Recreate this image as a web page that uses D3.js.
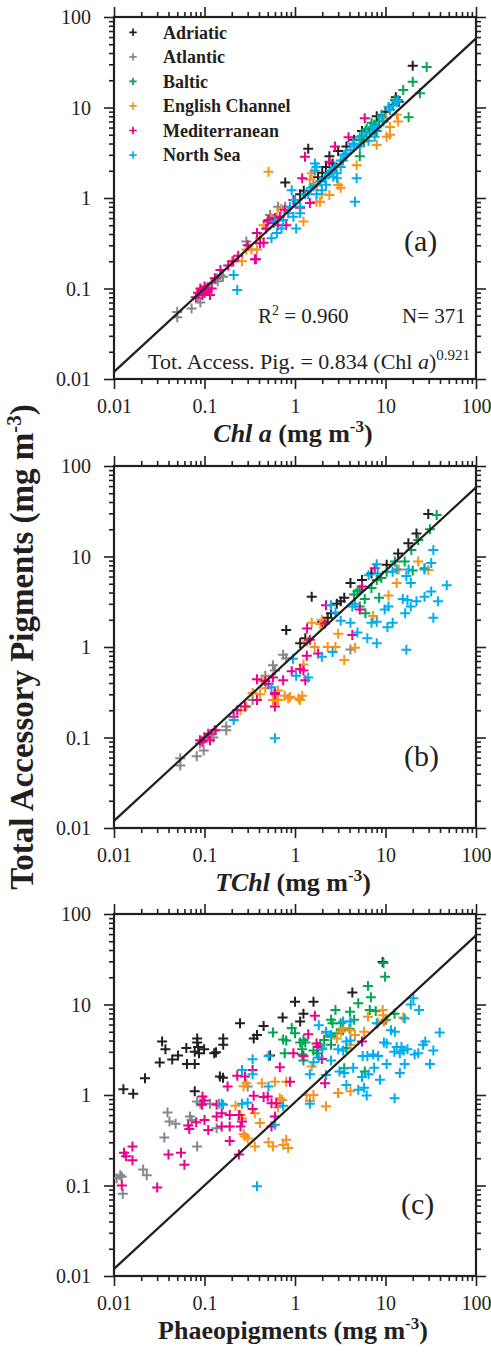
<!DOCTYPE html>
<html><head><meta charset="utf-8">
<script src="https://cdn.jsdelivr.net/npm/d3@7"></script>
<style>
body{margin:0;background:#fff}
svg{display:block}
text{font-family:"Liberation Serif","Times New Roman",serif;fill:#231f20}
</style>
</head><body>
<svg id="chart" width="491" height="1355"></svg>
<script>
// ---------- categories / styling keys ----------
const seriesNames = ["Adriatic","Atlantic","Baltic","English Channel","Mediterranean","North Sea"];
const seriesColors = ["#231f20","#85878a","#00a651","#f7941d","#ec008c","#00aeef"];
const tickValues = [0.01,0.1,1,10,100];
const tickLabels = ["0.01","0.1","1","10","100"];
const fitCoef = 0.834, fitExp = 0.921;
const panelLetters = ["(a)","(b)","(c)"];
const statsText = ["R","2"," = 0.960","N= 371"];

// ---------- panel (a): x = Chl a, y = total accessory pigments ----------
const adriatic_a = [[20,29],[13,13],[12,10.7],[14,11.6],[10,9],[1.4,3.5],[0.78,1.48],[1.14,1.1],[1.25,1.2],[2.4,2.9],[3.0,3.3],[3.7,3.7],[2.2,2.2],[2.6,2.4],[4.5,4.4],[5.5,5.5],[1.8,1.7],[2.0,1.9],[8,8]];
const atlantic_a = [[0.05,0.055],[0.05,0.048],[0.072,0.06],[0.085,0.078],[0.09,0.07],[0.1,0.09],[0.12,0.115],[0.136,0.13],[0.16,0.135],[0.14,0.12],[0.15,0.14],[0.29,0.33],[0.53,0.65],[0.65,0.8],[0.78,0.8]];
const baltic_a = [[28.5,28],[20,19.3],[15.7,15.6],[24,14.4],[18,7.8],[12.7,12.1],[9.1,8.3],[7.3,6.1],[6.7,5.2],[5.2,4.4],[5.2,2.9],[6,5.5],[7.5,6.5],[5.5,4.8],[8.5,7.0],[6.2,5.8],[7,6.8],[5.8,4.2],[8,5.5]];
const channel_a = [[0.51,1.95],[1.53,1.88],[1.46,1.6],[2.4,1.08],[3.2,1.3],[4.8,2.3],[8,3.85],[11.2,6.1],[13.3,8.3],[13.8,7.0],[10.3,4.75],[1.98,1.1],[1.24,0.55],[0.33,0.27],[0.41,0.36],[0.63,0.62],[1.89,0.91],[1.73,1.39],[3.0,1.39],[0.29,0.27],[0.26,0.2],[1.73,0.91],[0.38,0.27],[11.2,5.0],[10.2,7.6],[1.6,1.4],[0.45,0.5],[0.55,0.6],[0.7,0.75],[0.2,0.2]];
const med_a = [[0.08,0.08],[0.09,0.1],[0.1,0.09],[0.11,0.1],[0.115,0.085],[0.095,0.085],[0.1,0.105],[0.183,0.18],[0.208,0.2],[0.236,0.23],[0.36,0.21],[0.41,0.316],[0.38,0.41],[0.48,0.46],[0.58,0.53],[0.68,0.62],[0.77,0.74],[0.8,0.5],[1.14,0.78],[1.46,0.88],[1.29,2.86],[1.2,1.65],[2.77,3.7],[3.9,4.7],[5.9,7.6],[2.4,2.52],[0.37,0.21],[0.45,0.32],[0.51,0.57],[0.96,0.95],[0.3,0.3],[0.13,0.13],[0.15,0.16],[0.085,0.09],[0.105,0.1],[0.12,0.1],[0.092,0.095],[0.5,0.55],[0.6,0.6],[0.65,0.5]];
const ns_a = [[4.6,0.91],[4.8,1.65],[13.3,11.6],[11.2,9.4],[9.5,7],[7.6,5.6],[6.2,5.2],[5.2,3.7],[4.1,3.4],[3.4,2.6],[2.9,1.88],[2.65,1.72],[3.2,2.2],[1.73,2.2],[1.65,2.0],[1.98,1.22],[2.2,1.4],[1.73,1.1],[0.92,1.22],[1.0,0.95],[1.14,0.8],[0.88,0.8],[0.84,0.68],[0.71,0.46],[0.55,0.36],[1.03,0.46],[1.66,2.4],[0.23,0.096],[0.21,0.141],[13.8,12.1],[12.2,10.5],[2.5,2.0],[3.5,3.0],[4.5,3.9],[6.5,4.3],[8,6],[1.3,1.1],[1.5,1.3],[0.6,0.55],[7.6,4.75],[4.4,4.0],[3.7,3.1],[3.2,2.6],[2.77,2.2],[2.4,1.88],[2.15,1.65],[1.9,1.52],[2.9,1.65],[1.6,1.34],[1.4,1.1],[1.14,0.68],[0.96,0.62],[0.74,0.57],[0.63,0.41],[10.8,10.2],[9.1,7.9],[7.3,6.1],[5.2,4.75]];

// ---------- panel (b): x = TChl ----------
const adriatic_b = [[29.7,29.5],[17.9,14],[13.8,10.8],[10.3,8.1],[4.1,5.1],[3.2,3.2],[2.5,2.36],[1.53,3.6],[0.8,1.54],[1.14,1.1],[3.5,3.5],[2.9,3.0],[2.3,2.1],[5.5,5.5],[7,6.5],[1.3,1.25],[2.0,1.9],[22,18]];
const atlantic_b = [[0.054,0.059],[0.054,0.049],[0.082,0.062],[0.098,0.072],[0.089,0.086],[0.125,0.1],[0.135,0.12],[0.174,0.132],[0.174,0.12],[0.34,0.26],[0.57,0.63],[0.74,0.82],[0.47,0.48],[4.1,0.94],[0.8,0.75],[0.6,0.55],[0.12,0.11]];
const baltic_b = [[36.8,28.7],[31,20],[23,15.2],[19.3,11.8],[12.7,8.8],[16.3,8.8],[10.3,6.8],[8.0,5.5],[9.0,5.8],[5.2,4.3],[4.9,4.1],[5.9,3.4],[8.5,3.5],[5.2,2.8],[6.0,2.36],[20,7],[27,7.4],[7,4.5],[4.5,3.8]];
const channel_b = [[23,8.8],[29.7,7.1],[13.3,5.1],[10.8,3.7],[7.3,2.2],[3.5,0.72],[2.8,1.0],[3.0,1.4],[1.98,2.0],[1.9,1.8],[1.53,1.85],[1.14,0.26],[0.88,0.28],[0.65,0.33],[0.63,0.26],[0.46,0.43],[0.43,0.42],[0.34,0.31],[1.24,0.64],[1.65,1.0],[2.3,1.0],[1.36,1.15],[4.6,0.98],[0.25,0.2],[0.29,0.22],[0.41,0.3],[0.47,0.35],[0.77,0.29],[0.84,0.27],[1.1,0.27],[1.2,0.29],[0.65,0.26],[0.57,0.26],[14,7.2]];
const med_b = [[7.6,7.4],[5.5,4.65],[2.2,2.9],[2.15,1.82],[1.36,1.6],[1.46,1.2],[1.24,0.55],[1.3,0.43],[0.6,0.22],[0.6,0.31],[0.74,0.43],[0.47,0.42],[0.38,0.44],[0.92,0.54],[4.3,1.36],[5.2,2.6],[0.089,0.093],[0.1,0.1],[0.115,0.093],[0.095,0.09],[0.21,0.17],[0.23,0.2],[0.28,0.22],[0.38,0.26],[0.51,0.39],[0.57,0.46],[0.6,0.3],[1.14,0.57],[1.35,0.8],[1.8,0.85],[0.11,0.11],[0.13,0.12]];
const ns_b = [[47.5,4.8],[33.8,11.8],[32,8.5],[27,7.2],[32,4.1],[38,3.2],[27,3.6],[22,3.2],[19,2.8],[17.5,3.3],[16.5,2.36],[15.5,3.4],[33.8,2.1],[17,0.93],[19,5.1],[10.8,2.8],[9.8,2.6],[12,1.85],[10.5,1.65],[8,1.9],[7,1.85],[8,1.1],[6.3,1.25],[4.9,1.45],[4.1,1.85],[4.3,2.8],[4.6,3.0],[3.2,1.95],[2.8,2.4],[2.5,2.9],[1.98,0.78],[2.6,0.88],[1.4,0.46],[1.03,0.48],[0.95,0.74],[0.6,0.098],[6.5,6.2],[8.2,6.5],[12,6.8],[17,6.1],[18,7.2],[13.3,7.2],[8.0,8.2],[0.55,0.36],[0.21,0.156]];

// ---------- panel (c): x = phaeopigments ----------
const adriatic_c = [[0.0127,1.16],[0.0163,1.03],[0.022,1.53],[0.032,2.28],[0.034,3.9],[0.037,3.2],[0.044,2.47],[0.051,2.74],[0.063,3.3],[0.064,2.2],[0.078,2.2],[0.083,4.2],[0.083,3.8],[0.085,3.4],[0.087,2.9],[0.078,3.0],[0.099,3.2],[0.134,2.96],[0.128,2.9],[0.161,4.2],[0.161,3.6],[0.148,1.6],[0.16,1.55],[0.078,1.1],[0.247,6.2],[0.35,4.2],[0.38,4.6],[0.45,5.8],[0.73,7.2],[1.0,10.7],[1.6,10.7],[1.24,7.9],[1.14,6.5],[4.3,13.6],[0.53,2.74],[9.3,29.5]];
const atlantic_c = [[0.083,0.85],[0.09,0.8],[0.115,0.8],[0.136,0.43],[0.069,0.58],[0.072,0.53],[0.041,0.51],[0.048,0.48],[0.039,0.64],[0.036,0.34],[0.083,0.27],[0.3,1.24],[3.0,1.05],[0.021,0.15],[0.023,0.13],[0.0117,0.13],[0.0107,0.12],[0.0125,0.081],[0.0122,0.125],[0.145,0.8]];
const baltic_c = [[9.5,28.7],[9.9,20.3],[6.4,16],[6.9,12],[5.0,10.3],[4.05,8.3],[4.5,6.8],[6.7,8.7],[7.8,8.5],[12.6,7.9],[10.1,6.8],[2.8,8.7],[2.5,6.8],[2.6,6.2],[3.2,6.2],[3.4,5.2],[4.0,5.4],[2.9,4.8],[2.5,4.4],[2.1,4.05],[2.5,3.6],[3.7,3.3],[1.24,4.05],[1.3,3.8],[1.14,3.8],[0.92,5.5],[1.0,4.8],[0.57,4.9],[0.74,4.1],[0.8,4.0],[0.77,2.9],[1.2,2.8],[1.6,3.1],[1.75,2.9],[1.24,2.4],[1.2,3.2],[3.5,1.97],[5.9,1.82],[1.9,3.5]];
const channel_c = [[9.3,8.7],[9.4,7.6],[9.6,6.5],[6.4,7.3],[8.3,6.2],[15.7,7.2],[5.8,5.0],[3.4,5.5],[3.2,5.0],[4.1,5.2],[4.6,4.6],[2.9,4.2],[4.1,3.6],[2.2,4.8],[2.0,3.3],[1.53,2.07],[1.34,1.0],[1.6,1.0],[1.46,0.86],[2.2,0.75],[3.0,1.05],[4.1,1.1],[0.26,1.89],[0.29,1.35],[0.27,1.25],[0.43,1.35],[0.6,1.4],[0.8,1.4],[0.68,0.92],[0.41,0.49],[0.27,0.37],[0.28,0.35],[0.3,0.33],[0.36,0.27],[0.51,0.3],[0.57,0.27],[0.74,0.28],[0.8,0.32],[0.84,0.26],[0.65,0.73],[0.22,0.76],[0.36,0.63],[0.26,0.55],[0.25,0.6],[0.72,0.88]];
const med_c = [[1.66,7.5],[1.4,4.7],[1.73,3.7],[1.8,3.4],[1.98,2.5],[0.96,2.9],[1.24,2.7],[5.5,3.9],[2.15,1.35],[0.68,2.03],[0.34,1.89],[0.35,0.98],[0.18,1.24],[0.23,1.63],[0.28,1.6],[0.5,0.96],[0.55,0.81],[0.62,0.81],[0.6,0.58],[0.55,0.45],[0.34,0.7],[0.24,0.6],[0.26,0.51],[0.25,0.45],[0.19,0.6],[0.19,0.45],[0.155,0.45],[0.19,0.31],[0.24,0.22],[0.136,0.78],[0.155,0.63],[0.136,0.58],[0.1,0.53],[0.081,0.5],[0.066,0.46],[0.068,0.42],[0.11,0.41],[0.095,0.96],[0.094,0.78],[0.1,0.87],[0.055,0.23],[0.06,0.17],[0.04,0.22],[0.03,0.095],[0.016,0.27],[0.0129,0.23],[0.0136,0.21],[0.016,0.19],[0.0122,0.1],[0.88,1.4],[0.45,0.95]];
const ns_c = [[1.83,5.9],[2.2,5.0],[2.5,4.6],[3.4,6.5],[3.7,3.9],[4.1,4.0],[3.0,3.2],[3.4,3.1],[2.5,2.4],[1.83,2.6],[1.6,2.3],[1.46,1.7],[2.2,1.66],[3.1,1.82],[3.5,1.75],[4.4,2.0],[3.7,1.29],[5.0,1.14],[5.8,1.2],[6.2,0.99],[5.5,1.58],[6.5,1.7],[7.5,2.0],[8.7,1.47],[10.3,2.2],[12.6,0.92],[14.4,1.75],[16.3,2.2],[13.3,3.4],[12.5,3.0],[14.4,2.9],[15.8,3.1],[15,3.4],[23,2.9],[26,3.6],[27.5,3.9],[33.8,3.1],[39.7,4.9],[31,2.2],[21,2.8],[17.5,3.2],[10.3,3.7],[9.6,3.8],[7.3,2.8],[5.6,2.7],[6.3,2.7],[8.3,2.7],[12.7,5.0],[11.5,5.2],[16.3,7.0],[20.3,11.7],[23.5,8.7],[19,10],[8.0,6.2],[4.1,6.5],[0.51,2.7],[0.34,2.48],[0.26,1.89],[0.34,1.7],[0.51,1.24],[0.26,0.8],[0.16,0.78],[0.155,0.8],[0.74,0.76],[0.6,0.47],[1.46,0.8],[0.38,0.098],[2.0,3.2],[0.3,0.82]];

const panelSeries = [
  [adriatic_a, atlantic_a, baltic_a, channel_a, med_a, ns_a],
  [adriatic_b, atlantic_b, baltic_b, channel_b, med_b, ns_b],
  [adriatic_c, atlantic_c, baltic_c, channel_c, med_c, ns_c]
];

// ---------- layout ----------
const svg = d3.select("#chart");
const plotLeft = 114, plotSize = 362;
const panelTops = [17, 466, 914];
const ink = "#231f20";
const plus = s => `M${-s},0H${s}M0,${-s}V${s}`;

const x = d3.scaleLog().domain([0.01,100]).range([plotLeft, plotLeft+plotSize]);
const allTicks = x.ticks();
const minorTicks = allTicks.filter(t => !tickValues.some(m => Math.abs(m - t) / m < 1e-6));

function styleAxis(sel){
  sel.select(".domain").remove();
  sel.selectAll("line").attr("stroke", ink).attr("stroke-width", 1.6);
}

panelTops.forEach((top, pi) => {
  const g = svg.append("g");
  const y = d3.scaleLog().domain([0.01,100]).range([top+plotSize, top]);

  const clipId = "clip" + pi;
  g.append("clipPath").attr("id", clipId).append("rect")
    .attr("x", plotLeft).attr("y", top).attr("width", plotSize).attr("height", plotSize);

  // minor ticks on all 4 sides
  g.append("g").attr("transform", `translate(0,${top+plotSize})`)
    .call(d3.axisBottom(x).tickValues(minorTicks).tickSize(5).tickFormat("")).call(styleAxis);
  g.append("g").attr("transform", `translate(0,${top})`)
    .call(d3.axisTop(x).tickValues(minorTicks).tickSize(5).tickFormat("")).call(styleAxis);
  g.append("g").attr("transform", `translate(${plotLeft},0)`)
    .call(d3.axisLeft(y).tickValues(minorTicks).tickSize(5).tickFormat("")).call(styleAxis);
  g.append("g").attr("transform", `translate(${plotLeft+plotSize},0)`)
    .call(d3.axisRight(y).tickValues(minorTicks).tickSize(5).tickFormat("")).call(styleAxis);

  // major ticks
  const xb = g.append("g").attr("transform", `translate(0,${top+plotSize})`)
    .call(d3.axisBottom(x).tickValues(tickValues).tickSize(10).tickFormat((d,i)=>tickLabels[i])).call(styleAxis);
  xb.selectAll("text").attr("y", 34).attr("dy", null)
    .style("font-size","20px").style("font-family",'"Liberation Serif","Times New Roman",serif').attr("fill", ink);
  g.append("g").attr("transform", `translate(0,${top})`)
    .call(d3.axisTop(x).tickValues(tickValues).tickSize(10).tickFormat("")).call(styleAxis);
  const yl = g.append("g").attr("transform", `translate(${plotLeft},0)`)
    .call(d3.axisLeft(y).tickValues(tickValues).tickSize(10).tickFormat((d,i)=>tickLabels[i])).call(styleAxis);
  yl.selectAll("text").attr("x", -23).attr("dy", "0.33em")
    .style("font-size","20px").style("font-family",'"Liberation Serif","Times New Roman",serif').attr("fill", ink);
  g.append("g").attr("transform", `translate(${plotLeft+plotSize},0)`)
    .call(d3.axisRight(y).tickValues(tickValues).tickSize(10).tickFormat("")).call(styleAxis);

  // frame
  g.append("rect").attr("x", plotLeft).attr("y", top).attr("width", plotSize).attr("height", plotSize)
    .attr("fill","none").attr("stroke", ink).attr("stroke-width", 2.2);

  const inner = g.append("g").attr("clip-path", `url(#${clipId})`);

  // points
  panelSeries[pi].forEach((arr, si) => {
    inner.append("g").selectAll("path").data(arr).join("path")
      .attr("d", plus(5))
      .attr("transform", d => `translate(${x(d[0])},${y(d[1])})`)
      .attr("fill","none").attr("stroke", seriesColors[si]).attr("stroke-width", 2);
  });

  // regression line
  const lineX = x.domain();
  inner.append("path")
    .datum(lineX.map(v => [v, fitCoef * Math.pow(v, fitExp)]))
    .attr("d", d3.line().x(d => x(d[0])).y(d => y(d[1])))
    .attr("fill","none").attr("stroke", ink).attr("stroke-width", 2.2);

  // panel letter
  const letterY = pi === 0 ? top + 234 : top + 300;
  g.append("text").attr("x", 404 - (pi===2?3:0)).attr("y", letterY)
    .style("font-size","30px").text(panelLetters[pi]);

  // x axis title
  const xt = g.append("text").attr("x", 293).attr("y", top + plotSize + 63)
    .attr("text-anchor","middle").style("font-size","26px").style("font-weight","bold");
  if (pi === 0) {
    xt.append("tspan").style("font-style","italic").text("Chl a");
  } else if (pi === 1) {
    xt.append("tspan").style("font-style","italic").text("TChl");
  } else {
    xt.append("tspan").text("Phaeopigments");
  }
  xt.append("tspan").text(" (mg m");
  xt.append("tspan").attr("dy", -10).style("font-size","17px").text("-3");
  xt.append("tspan").attr("dy", 10).text(")");
});

// ---------- panel (a) legend ----------
const legend = svg.append("g");
seriesNames.forEach((name, i) => {
  const cy = 32.3 + i * 24.55;
  legend.append("path").attr("d", plus(3.7)).attr("transform", `translate(133,${cy})`)
    .attr("stroke", seriesColors[i]).attr("stroke-width", 1.7).attr("fill","none");
  legend.append("text").attr("x", 163).attr("y", cy + 6.3)
    .style("font-size","18px").style("font-weight","bold").text(name);
});

// ---------- panel (a) statistics ----------
const r2 = svg.append("text").attr("x", 258).attr("y", 323).style("font-size","21px");
r2.append("tspan").text(statsText[0]);
r2.append("tspan").attr("dy", -8).style("font-size","14px").text(statsText[1]);
r2.append("tspan").attr("dy", 8).text(statsText[2]);
svg.append("text").attr("x", 402).attr("y", 323).style("font-size","21px").text(statsText[3]);

const eq = svg.append("text").attr("x", 148).attr("y", 369).style("font-size","22px");
eq.append("tspan").text(`Tot. Access. Pig. = ${fitCoef} (Chl `);
eq.append("tspan").style("font-style","italic").text("a");
eq.append("tspan").text(")");
eq.append("tspan").attr("dy", -9).style("font-size","15px").text(String(fitExp));

// ---------- shared y axis title ----------
const yt = svg.append("text")
  .attr("transform", `translate(33,${panelTops[1] + plotSize/2}) rotate(-90)`)
  .attr("text-anchor","middle").style("font-size","33px").style("font-weight","bold");
yt.append("tspan").text("Total Accessory Pigments (mg m");
yt.append("tspan").attr("dy", -12).style("font-size","21px").text("-3");
yt.append("tspan").attr("dy", 12).text(")");
</script>
</body></html>
